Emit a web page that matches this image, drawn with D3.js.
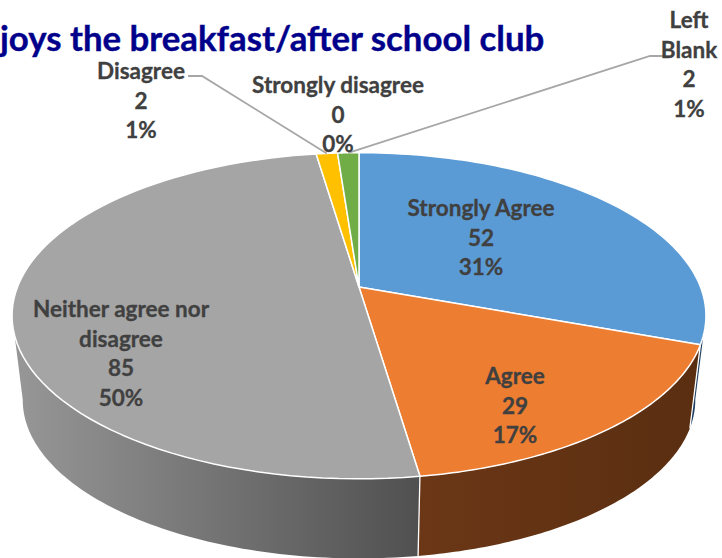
<!DOCTYPE html>
<html>
<head>
<meta charset="utf-8">
<script src="https://cdn.jsdelivr.net/npm/d3@7"></script>
<style>
  html, body { margin: 0; padding: 0; background: #fff; }
  svg { display: block; }
  text { font-family: Lato, "Open Sans", sans-serif; font-weight: 700; }
</style>
</head>
<body>
<div id="chart"></div>
<script>
// data
var categories = ["Strongly Agree", "Agree", "Neither agree nor disagree", "Disagree", "Strongly disagree", "Left Blank"];
var values = [52, 29, 85, 2, 0, 2];
var percents = ["31%", "17%", "50%", "1%", "0%", "1%"];
var topColors = ["#5b9bd5", "#ed7d31", "#a5a5a5", "#ffc000", "#4472c4", "#70ad47"];
var labelLines = [["Strongly Agree"], ["Agree"], ["Neither agree nor", "disagree"], ["Disagree"], ["Strongly disagree"], ["Left", "Blank"]];
var titleText = "joys the breakfast/after school club";

var width = 722, height = 558;

var svg = d3.select("#chart").append("svg")
    .attr("width", width)
    .attr("height", height);

var defs = svg.append("defs");

// perspective of the disc, unit circle -> screen
var cx = 359, k = 0.1765;
var topDisc = { cy: 287, rx: 341.5, ry: 158 };
var baseDisc = { cy: 372, rx: 331, ry: 153.5 };

function project(angle, disc) {
    var ux = Math.sin(angle), uy = -Math.cos(angle);
    var w = 1 - k * uy;
    return [cx + disc.rx * ux / w, disc.cy + disc.ry * uy / w];
}

var slices = d3.pie().sort(null).value(d => d)(values);

function arcPoints(a0, a1, disc) {
    return d3.range(0, 81).map(i => project(a0 + (a1 - a0) * i / 80, disc));
}

var line = d3.line();

// walls, the disc edge is widest at 100 and 260 degrees
var wallFrom = 100 * Math.PI / 180, wallTo = 260 * Math.PI / 180;
var wallSlices = [
    { index: 0, fill: "#1f3f63" },
    { index: 1, fill: "url(#wallAgree)" },
    { index: 2, fill: "url(#wallNeither)" }
];

var gradAgree = defs.append("linearGradient").attr("id", "wallAgree")
    .attr("gradientUnits", "userSpaceOnUse")
    .attr("x1", 420).attr("x2", 700).attr("y1", 0).attr("y2", 0);
gradAgree.append("stop").attr("offset", 0).attr("stop-color", "#6b3716");
gradAgree.append("stop").attr("offset", 1).attr("stop-color", "#5a2e11");

var gradNeither = defs.append("linearGradient").attr("id", "wallNeither")
    .attr("gradientUnits", "userSpaceOnUse")
    .attr("x1", 14).attr("x2", 420).attr("y1", 0).attr("y2", 0);
gradNeither.append("stop").attr("offset", 0).attr("stop-color", "#979797");
gradNeither.append("stop").attr("offset", 1).attr("stop-color", "#505050");

wallSlices.forEach(function(w) {
    var s = slices[w.index];
    var a0 = Math.max(s.startAngle, wallFrom);
    var a1 = Math.min(s.endAngle, wallTo);
    var pts = arcPoints(a0, a1, topDisc).concat(arcPoints(a1, a0, baseDisc));
    svg.append("path")
        .attr("d", line(pts) + "Z")
        .attr("fill", w.fill);
});

// white seams between the walls
[slices[0].endAngle, slices[1].endAngle].forEach(function(a) {
    svg.append("path")
        .attr("d", line([project(a, topDisc), project(a, baseDisc)]))
        .attr("stroke", "#fff")
        .attr("stroke-width", 1.3);
});

// top surface
slices.forEach(function(s, i) {
    if (values[i] === 0) return;
    var pts = [[cx, topDisc.cy]].concat(arcPoints(s.startAngle, s.endAngle, topDisc));
    svg.append("path")
        .attr("d", line(pts) + "Z")
        .attr("fill", topColors[i])
        .attr("stroke", "#fff")
        .attr("stroke-width", 1.5)
        .attr("stroke-linejoin", "round");
});

// leader lines
var leaderColor = "#a6a6a6";
function midPoint(i) {
    var s = slices[i];
    return project((s.startAngle + s.endAngle) / 2, topDisc);
}
var leaders = [
    { index: 3, path: [[188, 76], [202, 76]] },
    { index: 5, path: [[664, 56], [650, 56]] }
];
leaders.forEach(function(l) {
    var pts = l.path.concat([midPoint(l.index)]);
    svg.append("path")
        .attr("d", line(pts))
        .attr("fill", "none")
        .attr("stroke", leaderColor)
        .attr("stroke-width", 1.8);
});

// labels
var labelPos = [[481, 216], [515, 384], [121, 317], [141, 79], [338, 93], [689, 28]];
var lineGap = 29.6;
categories.forEach(function(c, i) {
    var rows = labelLines[i].concat([String(values[i]), percents[i]]);
    var t = svg.append("text")
        .attr("text-anchor", "middle")
        .attr("font-size", 22.5)
        .attr("fill", "#404040")
        .attr("stroke", "#404040")
        .attr("stroke-width", 0.3);
    rows.forEach(function(r, j) {
        t.append("tspan")
            .attr("x", labelPos[i][0])
            .attr("y", labelPos[i][1] + j * lineGap)
            .text(r);
    });
});

// title, cut off on the left in the source
svg.append("text")
    .attr("x", 0)
    .attr("y", 51)
    .attr("font-size", 34.8)
    .attr("fill", "#00008b")
    .attr("stroke", "#00008b")
    .attr("stroke-width", 0.4)
    .text(titleText);
</script>
</body>
</html>
